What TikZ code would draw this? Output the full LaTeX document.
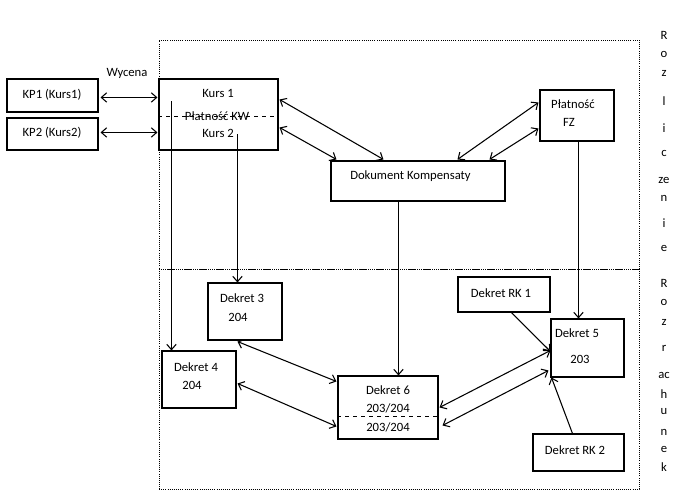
\documentclass[tikz,border=0pt]{standalone}
\usepackage{fontspec}
\setmainfont{Carlito}
\usetikzlibrary{arrows.meta,calc,fit}
\begin{document}
\begin{tikzpicture}[x=0.75pt,y=-0.75pt,
  font=\fontsize{9.5}{11}\selectfont,
  box/.style={draw,line width=0.8pt,inner sep=0pt},
  region/.style={draw,densely dotted,line width=0.6pt,inner sep=0pt},
  txt/.style={inner sep=0pt},
  conn/.style={line width=0.8pt},
  dbl/.style={conn,{Straight Barb[length=4pt,width=7pt]}-{Straight Barb[length=4pt,width=7pt]}},
  one/.style={conn,-{Straight Barb[length=4pt,width=7pt]}},
  split/.style={dashed,line width=0.8pt}]
\useasboundingbox (0,0) rectangle (682,499);
% regions
\node[region,fit={(159,40) (639,269)}] (top) {};
\node[region,fit={(159,269) (639,489)}] (bot) {};
% boxes
\node[box,fit={(7,79) (98,112)}] (kp1) {};
\node[txt] (kp1t) at (52,95) {KP1 (Kurs1)};
\node[box,fit={(7,118) (98,150)}] (kp2) {};
\node[txt] (kp2t) at (52,133) {KP2 (Kurs2)};
\node[box,fit={(159,79) (278,150)}] (kurs) {};
\draw[split] ($(kurs.north west)+(0,38)$) -- ($(kurs.north east)+(0,38)$);
\node[txt] (k1) at (218,93) {Kurs 1};
\node[txt] (pkw) at (217,116) {Płatność KW};
\node[txt] (k2) at (218,133) {Kurs 2};
\node[txt] (wyc) at (127,73) {Wycena};
\node[box,fit={(540,90) (614,141)}] (pfz) {};
\node[txt] (pfz1) at (573,104) {Płatność};
\node[txt] (pfz2) at (569,122) {FZ};
\node[box,fit={(331,161) (505,201)}] (dok) {};
\node[txt,anchor=west] (dokt) at (350,176) {Dokument Kompensaty};
\node[box,fit={(208,283) (282,340)}] (d3) {};
\node[txt] (d3a) at (242,298) {Dekret 3};
\node[txt] (d3b) at (238,317) {204};
\node[box,fit={(162,351) (236,408)}] (d4) {};
\node[txt] (d4a) at (196,367) {Dekret 4};
\node[txt] (d4b) at (192,385) {204};
\node[box,fit={(338,376) (438,439)}] (d6) {};
\draw[split] ($(d6.north west)+(0,41)$) -- ($(d6.north east)+(0,41)$);
\node[txt] (d6a) at (388,390) {Dekret 6};
\node[txt] (d6b) at (388,408) {203/204};
\node[txt] (d6c) at (388,427) {203/204};
\node[box,fit={(551,319) (624,377)}] (d5) {};
\node[txt] (d5a) at (577,333) {Dekret 5};
\node[txt] (d5b) at (580,359) {203};
\node[box,fit={(458,277) (550,312)}] (rk1) {};
\node[txt] (rk1t) at (501,293) {Dekret RK 1};
\node[box,fit={(533,434) (624,471)}] (rk2) {};
\node[txt] (rk2t) at (575,450) {Dekret RK 2};
% connectors
\draw[dbl] ($(kp1.north east)+(2,19)$) -- ($(kurs.north west)+(-1,19)$);
\draw[dbl] ($(kp2.north east)+(2,15)$) -- ($(kurs.north west)+(-1,54)$);
\draw[dbl] ($(kurs.north east)+(1,21)$) -- ($(dok.north west)+(53,-1)$);
\draw[dbl] ($(kurs.north east)+(1,49)$) -- ($(dok.north west)+(6,-1)$);
\draw[dbl] ($(pfz.north west)+(-1,13)$) -- ($(dok.north west)+(127,-1)$);
\draw[dbl] ($(pfz.north west)+(-1,39)$) -- ($(dok.north west)+(159,-1)$);
\draw[one] ($(kurs.north west)+(13,23)$) -- ($(d4.north west)+(10,0)$);
\draw[one] ($(kurs.north west)+(79,56)$) -- ($(d3.north west)+(30,0)$);
\draw[one] ($(dok.south west)+(68,0)$) -- ($(d6.north west)+(61,0)$);
\draw[one] ($(pfz.south west)+(39,0)$) -- ($(d5.north west)+(28,0)$);
\draw[dbl] ($(d3.south west)+(30,1)$) -- ($(d6.north west)+(-1,6)$);
\draw[dbl] ($(d4.north east)+(1,33)$) -- ($(d6.north west)+(-1,51)$);
\draw[dbl] ($(d6.north east)+(1,32)$) -- ($(d5.north west)+(0,32)$);
\draw[dbl] ($(d6.north east)+(4,50)$) -- ($(d5.north west)+(-2,52)$);
\draw[one] ($(rk1.south west)+(54,0)$) -- ($(d5.north west)+(0,33)$);
\draw[one] ($(rk2.north west)+(40,0)$) -- ($(d5.south west)+(1,0)$);
% side labels
\foreach \t/\yy [count=\i] in {R/35,o/54,z/73,l/101,i/128,c/153,ze/180,n/198,i/223,e/248,
  R/283,o/302,z/322,r/348,ac/375,h/394,u/412,n/432,e/449,k/467}
  \node[txt] (side\i) at (664,\yy) {\t};
\end{tikzpicture}
\end{document}
